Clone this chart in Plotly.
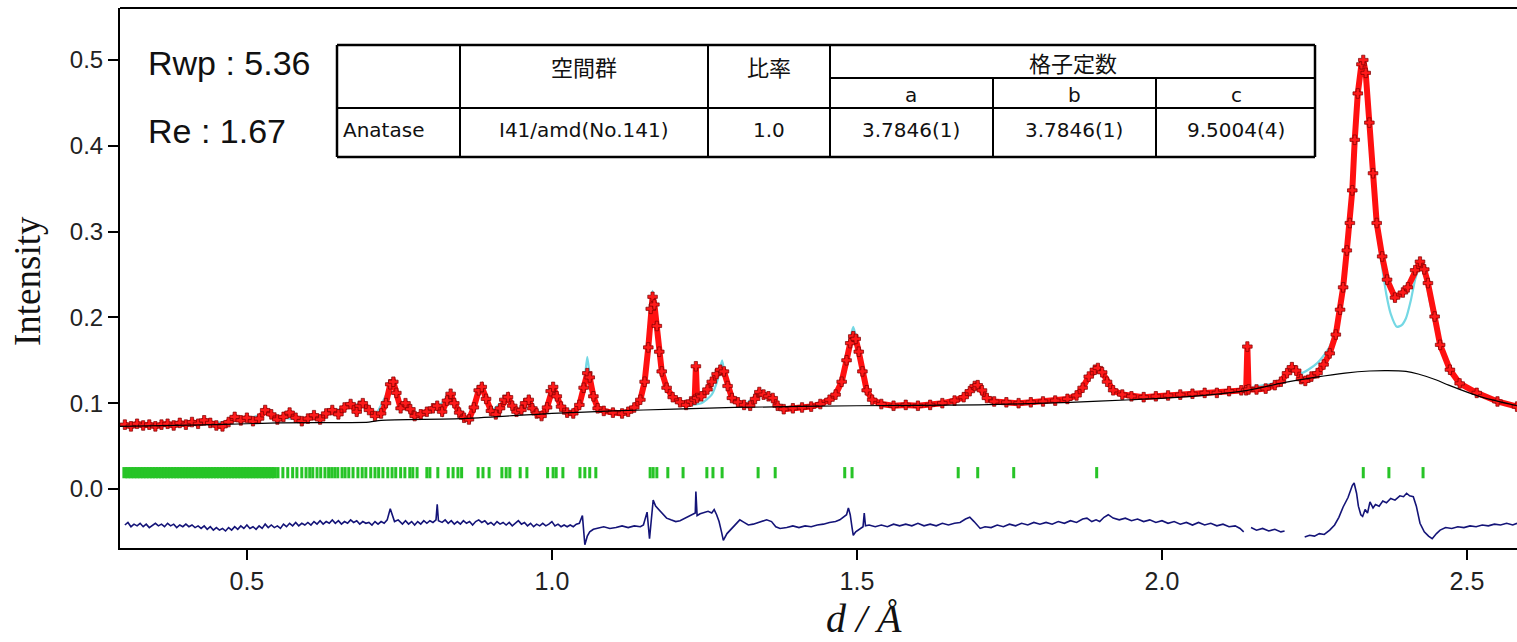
import plotly.graph_objects as go

# ---------------- data ----------------
obs_d = [0.300,0.310,0.320,0.330,0.340,0.350,0.360,0.370,0.380,0.390,0.400,0.410,0.420,0.430,0.440,0.450,0.460,0.470,0.480,0.490,
         0.500,0.510,0.520,0.530,0.540,0.550,0.560,0.570,0.580,0.590,0.600,0.610,0.620,0.630,0.640,0.650,0.660,0.670,0.680,0.685,
         0.690,0.700,0.710,0.720,0.728,0.735,0.740,0.745,0.752,0.760,0.768,0.775,0.785,0.795,0.805,0.812,0.820,0.828,0.834,0.840,
         0.848,0.856,0.864,0.872,0.880,0.885,0.892,0.900,0.908,0.915,0.922,0.928,0.935,0.942,0.950,0.956,0.962,0.968,0.975,0.983,
         0.992,0.998,1.002,1.008,1.015,1.025,1.035,1.045,1.052,1.058,1.062,1.068,1.075,1.085,1.100,1.115,1.125,1.135,1.145,1.152,
         1.158,1.162,1.165,1.168,1.172,1.176,1.180,1.188,1.198,1.210,1.220,1.228,1.234,1.236,1.238,1.245,1.255,1.262,1.270,1.276,
         1.282,1.288,1.295,1.305,1.315,1.325,1.333,1.340,1.347,1.355,1.362,1.370,1.380,1.395,1.410,1.425,1.440,1.455,1.465,1.475,
         1.483,1.489,1.494,1.498,1.503,1.509,1.516,1.525,1.540,1.560,1.580,1.600,1.620,1.640,1.660,1.675,1.685,1.693,1.698,1.705,
         1.713,1.725,1.745,1.765,1.785,1.805,1.825,1.845,1.860,1.870,1.880,1.890,1.895,1.902,1.910,1.920,1.935,1.950,1.970,1.990,
         2.010,2.030,2.050,2.070,2.090,2.110,2.130,2.138,2.140,2.142,2.155,2.170,2.185,2.195,2.205,2.213,2.220,2.228,2.235,2.245,
         2.255,2.265,2.275,2.285,2.292,2.297,2.303,2.308,2.312,2.316,2.321,2.327,2.330,2.334,2.340,2.346,2.352,2.361,2.369,2.382,
         2.395,2.403,2.415,2.423,2.430,2.436,2.447,2.456,2.472,2.488,2.516,2.550,2.582]
obs_I = [0.075,0.073,0.076,0.074,0.075,0.073,0.075,0.076,0.074,0.077,0.075,0.078,0.076,0.080,0.077,0.074,0.073,0.078,0.084,0.080,
         0.083,0.079,0.082,0.092,0.087,0.081,0.084,0.089,0.083,0.079,0.082,0.086,0.081,0.088,0.092,0.087,0.095,0.099,0.090,0.097,
         0.100,0.092,0.085,0.088,0.100,0.122,0.125,0.112,0.094,0.100,0.093,0.085,0.087,0.090,0.094,0.097,0.090,0.103,0.111,0.100,
         0.089,0.083,0.081,0.095,0.115,0.119,0.105,0.091,0.087,0.094,0.104,0.107,0.097,0.090,0.092,0.100,0.104,0.094,0.088,0.085,
         0.095,0.114,0.119,0.108,0.096,0.089,0.088,0.098,0.118,0.135,0.130,0.108,0.094,0.091,0.089,0.088,0.090,0.095,0.104,0.125,
         0.165,0.210,0.224,0.215,0.190,0.160,0.137,0.118,0.107,0.101,0.098,0.102,0.104,0.143,0.106,0.108,0.116,0.125,0.134,0.139,
         0.137,0.120,0.106,0.101,0.098,0.097,0.105,0.113,0.110,0.108,0.106,0.097,0.093,0.094,0.095,0.096,0.099,0.104,0.110,0.125,
         0.150,0.170,0.178,0.175,0.160,0.137,0.115,0.104,0.099,0.097,0.098,0.097,0.098,0.100,0.103,0.107,0.114,0.120,0.121,0.115,
         0.106,0.102,0.101,0.100,0.101,0.102,0.103,0.105,0.109,0.118,0.131,0.139,0.141,0.136,0.125,0.115,0.110,0.108,0.107,0.108,
         0.109,0.110,0.111,0.112,0.112,0.114,0.115,0.115,0.166,0.116,0.116,0.117,0.121,0.125,0.135,0.142,0.138,0.128,0.126,0.131,
         0.135,0.145,0.158,0.180,0.209,0.235,0.278,0.310,0.348,0.407,0.461,0.495,0.500,0.485,0.427,0.368,0.310,0.271,0.244,0.223,
         0.229,0.235,0.255,0.265,0.256,0.240,0.201,0.168,0.139,0.123,0.112,0.102,0.096]

calc_d = [0.300,0.350,0.400,0.450,0.480,0.500,0.530,0.550,0.600,0.640,0.670,0.690,0.710,0.735,0.740,0.750,0.760,0.775,0.812,0.834,
          0.856,0.864,0.885,0.900,0.928,0.942,0.962,0.983,1.002,1.015,1.040,1.052,1.058,1.064,1.075,1.100,1.130,1.150,1.158,1.165,
          1.172,1.180,1.198,1.220,1.245,1.262,1.272,1.279,1.286,1.295,1.315,1.340,1.355,1.370,1.420,1.455,1.475,1.489,1.494,1.499,
          1.509,1.525,1.600,1.675,1.698,1.713,1.800,1.860,1.895,1.920,2.000,2.100,2.150,2.190,2.213,2.228,2.255,2.275,2.292,2.303,
          2.312,2.322,2.330,2.336,2.345,2.352,2.361,2.368,2.375,2.385,2.393,2.400,2.408,2.415,2.423,2.430,2.440,2.456,2.472,2.488,
          2.520,2.582]
calc_I = [0.075,0.075,0.076,0.077,0.080,0.081,0.088,0.083,0.082,0.090,0.097,0.098,0.087,0.120,0.124,0.098,0.098,0.087,0.095,0.110,
          0.085,0.083,0.118,0.092,0.106,0.091,0.102,0.088,0.118,0.095,0.091,0.118,0.154,0.120,0.094,0.090,0.092,0.115,0.165,0.231,
          0.190,0.136,0.106,0.098,0.100,0.110,0.128,0.150,0.122,0.106,0.098,0.112,0.108,0.097,0.096,0.103,0.125,0.175,0.189,0.175,
          0.135,0.103,0.097,0.107,0.121,0.105,0.102,0.109,0.141,0.114,0.108,0.113,0.119,0.125,0.143,0.135,0.147,0.166,0.210,0.275,
          0.350,0.462,0.497,0.475,0.370,0.305,0.258,0.226,0.204,0.189,0.191,0.199,0.220,0.244,0.260,0.252,0.215,0.168,0.139,0.122,
          0.110,0.096]

bkg_d = [0.292,0.450,0.550,0.700,0.720,0.850,0.950,1.000,1.100,1.200,1.300,1.500,1.700,1.850,1.950,2.050,2.140,2.200,2.250,2.300,
         2.340,2.370,2.400,2.420,2.450,2.470,2.520,2.582]
bkg_I = [0.073,0.075,0.077,0.078,0.080,0.082,0.086,0.088,0.091,0.093,0.095,0.097,0.098,0.101,0.104,0.108,0.115,0.124,0.130,0.135,
         0.1375,0.138,0.137,0.134,0.127,0.121,0.108,0.097]

diff_pts = [(0.300,-0.042),(0.305,-0.039),(0.310,-0.044),(0.315,-0.041),(0.320,-0.043),(0.325,-0.040),(0.330,-0.044),(0.335,-0.041),
            (0.340,-0.045),(0.345,-0.042),(0.350,-0.040),(0.355,-0.043),(0.360,-0.041),(0.365,-0.044),(0.370,-0.040),(0.375,-0.043),
            (0.380,-0.041),(0.385,-0.045),(0.390,-0.042),(0.395,-0.044),(0.400,-0.041),(0.405,-0.044),(0.410,-0.042),(0.415,-0.045),
            (0.420,-0.043),(0.425,-0.046),(0.430,-0.043),(0.435,-0.047),(0.440,-0.044),(0.445,-0.048),(0.450,-0.045),(0.455,-0.048),
            (0.460,-0.046),(0.465,-0.049),(0.470,-0.045),(0.475,-0.048),(0.480,-0.044),(0.485,-0.047),(0.490,-0.043),(0.495,-0.046),
            (0.500,-0.042),(0.505,-0.046),(0.510,-0.044),(0.515,-0.047),(0.520,-0.043),(0.525,-0.046),(0.530,-0.041),(0.535,-0.045),
            (0.540,-0.042),(0.545,-0.045),(0.550,-0.043),(0.555,-0.046),(0.560,-0.041),(0.565,-0.044),(0.570,-0.040),(0.575,-0.043),
            (0.580,-0.039),(0.585,-0.043),(0.590,-0.040),(0.595,-0.042),(0.600,-0.039),(0.605,-0.042),(0.610,-0.038),(0.615,-0.041),
            (0.620,-0.037),(0.625,-0.041),(0.630,-0.038),(0.635,-0.040),(0.640,-0.036),(0.645,-0.040),(0.650,-0.037),(0.655,-0.041),
            (0.660,-0.038),(0.665,-0.040),(0.670,-0.036),(0.675,-0.039),(0.680,-0.037),(0.685,-0.041),(0.690,-0.038),(0.695,-0.040),
            (0.700,-0.039),(0.705,-0.042),(0.710,-0.038),(0.715,-0.041),(0.720,-0.038),(0.725,-0.040),(0.730,-0.036),(0.735,-0.023),
            (0.738,-0.030),(0.742,-0.038),(0.748,-0.036),(0.755,-0.041),(0.760,-0.037),(0.765,-0.041),(0.770,-0.038),(0.775,-0.042),
            (0.780,-0.038),(0.785,-0.041),(0.790,-0.037),(0.795,-0.040),(0.800,-0.037),(0.805,-0.039),(0.810,-0.036),(0.812,-0.018),
            (0.814,-0.037),(0.820,-0.039),(0.825,-0.036),(0.830,-0.040),(0.835,-0.037),(0.840,-0.041),(0.845,-0.038),(0.850,-0.041),
            (0.855,-0.037),(0.860,-0.040),(0.865,-0.038),(0.870,-0.042),(0.875,-0.038),(0.880,-0.036),(0.885,-0.039),(0.890,-0.037),
            (0.895,-0.041),(0.900,-0.039),(0.905,-0.042),(0.910,-0.038),(0.915,-0.041),(0.920,-0.039),(0.925,-0.042),(0.930,-0.039),
            (0.935,-0.043),(0.940,-0.040),(0.945,-0.037),(0.950,-0.041),(0.955,-0.039),(0.960,-0.043),(0.965,-0.040),(0.970,-0.044),
            (0.975,-0.041),(0.980,-0.043),(0.985,-0.040),(0.990,-0.043),(0.995,-0.041),(1.000,-0.038),(1.005,-0.043),(1.010,-0.041),
            (1.015,-0.044),(1.020,-0.042),(1.025,-0.044),(1.030,-0.042),(1.035,-0.044),(1.040,-0.041),(1.045,-0.040),(1.050,-0.031),
            (1.054,-0.065),(1.058,-0.055),(1.062,-0.050),(1.068,-0.047),(1.075,-0.046),(1.085,-0.044),(1.095,-0.046),(1.105,-0.045),
            (1.115,-0.043),(1.125,-0.045),(1.135,-0.043),(1.145,-0.044),(1.150,-0.042),(1.156,-0.027),(1.160,-0.058),(1.163,-0.030),
            (1.166,-0.013),(1.170,-0.020),(1.175,-0.024),(1.180,-0.028),(1.188,-0.034),(1.195,-0.036),(1.203,-0.038),(1.210,-0.037),
            (1.218,-0.034),(1.225,-0.031),(1.230,-0.030),(1.235,-0.028),(1.236,-0.003),(1.238,-0.031),(1.243,-0.029),(1.250,-0.027),
            (1.256,-0.026),(1.262,-0.028),(1.266,-0.024),(1.270,-0.030),(1.274,-0.038),(1.278,-0.050),(1.281,-0.060),(1.287,-0.052),
            (1.295,-0.046),(1.302,-0.040),(1.308,-0.036),(1.315,-0.039),(1.322,-0.042),(1.330,-0.041),(1.338,-0.039),(1.345,-0.037),
            (1.352,-0.036),(1.360,-0.038),(1.367,-0.044),(1.374,-0.046),(1.385,-0.045),(1.395,-0.043),(1.405,-0.045),(1.415,-0.043),
            (1.425,-0.044),(1.435,-0.042),(1.445,-0.041),(1.455,-0.039),(1.465,-0.038),(1.472,-0.036),(1.478,-0.033),(1.483,-0.030),
            (1.486,-0.022),(1.489,-0.030),(1.492,-0.045),(1.494,-0.054),(1.498,-0.050),(1.505,-0.046),(1.510,-0.044),(1.512,-0.028),
            (1.514,-0.043),(1.520,-0.042),(1.530,-0.044),(1.540,-0.042),(1.550,-0.044),(1.560,-0.041),(1.570,-0.043),(1.580,-0.041),
            (1.590,-0.043),(1.600,-0.040),(1.610,-0.043),(1.620,-0.041),(1.630,-0.043),(1.640,-0.040),(1.650,-0.042),(1.660,-0.040),
            (1.669,-0.039),(1.678,-0.035),(1.685,-0.033),(1.692,-0.038),(1.702,-0.046),(1.710,-0.044),(1.720,-0.045),(1.730,-0.042),
            (1.740,-0.044),(1.750,-0.041),(1.760,-0.043),(1.770,-0.040),(1.780,-0.042),(1.790,-0.039),(1.800,-0.041),(1.810,-0.039),
            (1.820,-0.041),(1.830,-0.038),(1.840,-0.040),(1.850,-0.037),(1.860,-0.039),(1.870,-0.035),(1.877,-0.034),(1.885,-0.038),
            (1.892,-0.036),(1.898,-0.038),(1.905,-0.033),(1.912,-0.030),(1.920,-0.034),(1.930,-0.036),(1.940,-0.034),(1.950,-0.037),
            (1.960,-0.035),(1.970,-0.038),(1.980,-0.036),(1.990,-0.039),(2.000,-0.037),(2.010,-0.040),(2.020,-0.038),(2.030,-0.041),
            (2.040,-0.039),(2.050,-0.042),(2.060,-0.039),(2.070,-0.042),(2.080,-0.040),(2.090,-0.043),(2.100,-0.041),(2.110,-0.044),
            (2.120,-0.043),(2.128,-0.046),(2.134,-0.050),(None,None),(2.146,-0.045),(2.155,-0.048),(2.165,-0.046),(2.175,-0.049),
            (2.185,-0.047),(2.195,-0.050),(2.201,-0.049),(None,None),(2.234,-0.056),(2.242,-0.054),(2.250,-0.055),(2.258,-0.052),
            (2.266,-0.053),(2.275,-0.048),(2.283,-0.042),(2.290,-0.033),(2.297,-0.021),(2.305,-0.010),(2.312,0.004),(2.315,0.007),
            (2.319,-0.005),(2.322,-0.020),(2.326,-0.030),(2.329,-0.032),(2.333,-0.024),(2.337,-0.028),(2.341,-0.015),(2.346,-0.022),
            (2.350,-0.018),(2.356,-0.020),(2.362,-0.014),(2.368,-0.016),(2.375,-0.011),(2.382,-0.013),(2.390,-0.008),(2.396,-0.009),
            (2.401,-0.005),(2.406,-0.008),(2.412,-0.009),(2.417,-0.020),(2.423,-0.040),(2.430,-0.050),(2.437,-0.055),(2.443,-0.058),
            (2.450,-0.052),(2.456,-0.048),(2.465,-0.045),(2.475,-0.046),(2.485,-0.044),(2.495,-0.045),(2.505,-0.043),(2.515,-0.044),
            (2.525,-0.042),(2.535,-0.043),(2.545,-0.041),(2.555,-0.042),(2.565,-0.040),(2.575,-0.042),(2.582,-0.040)]

hkl_dense_d = [0.300,0.305,0.310,0.315,0.320,0.325,0.330,0.335,0.340,0.345,0.350,0.355,0.360,0.365,0.370,0.375,0.380,0.385,
               0.390,0.395,0.400,0.405,0.410,0.415,0.420,0.425,0.430,0.435,0.440,0.445,0.450,0.455,0.460,0.465,0.470,0.475,
               0.480,0.485,0.490,0.495,0.500,0.505,0.510,0.515,0.520,0.525,0.530,0.535,0.540,0.545]
hkl_d = [0.551,0.559,0.567,0.575,0.582,0.590,0.597,0.603,0.608,0.615,0.621,0.628,0.634,0.639,0.644,0.649,0.656,0.661,0.667,0.674,
         0.682,0.689,0.695,0.703,0.710,0.716,0.723,0.731,0.738,0.744,0.752,0.759,0.767,0.772,0.779,0.795,0.800,0.813,0.830,0.838,
         0.846,0.852,0.879,0.887,0.897,0.918,0.925,0.931,0.948,0.959,0.993,1.002,1.007,1.018,1.046,1.054,1.062,1.072,1.161,1.166,
         1.172,1.190,1.215,1.254,1.264,1.279,1.338,1.366,1.480,1.492,1.666,1.698,1.757,1.893,2.330,2.372,2.428]
hkl_level = 0.019

x_ticks = [0.5, 1.0, 1.5, 2.0, 2.5]
y_ticks = [0.0, 0.1, 0.2, 0.3, 0.4, 0.5]
x_range = [0.292, 2.582]
y_range = [-0.0688, 0.5606]

rwp_text = "Rwp : 5.36"
re_text = "Re : 1.67"
table_header = ["空間群", "比率", "格子定数"]
table_sub = ["a", "b", "c"]
table_row = ["Anatase", "I41/amd(No.141)", "1.0", "3.7846(1)", "3.7846(1)", "9.5004(4)"]

diff_d = [p[0] for p in diff_pts]
diff_I = [p[1] for p in diff_pts]

# ---------------- figure ----------------
W, H = 1517, 642
L, R, T, B = 120, 0, 8, 94
pw, ph = W - L - R, H - T - B

def px(x):
    return (x - L) / pw

def py(y):
    return (H - B - y) / ph

fig = go.Figure()

fig.add_trace(go.Scatter(x=calc_d, y=calc_I, mode="lines", line_shape="spline",
                         line=dict(color="#74d8e4", width=2.2, smoothing=0.6), hoverinfo="skip"))
fig.add_trace(go.Scatter(x=obs_d, y=obs_I, mode="lines+markers",
                         line=dict(color="#ff1010", width=6),
                         marker=dict(symbol="cross", size=8, color="#ff1a1a",
                                     line=dict(color="#7a0000", width=0.7))))
fig.add_trace(go.Scatter(x=bkg_d, y=bkg_I, mode="lines", line_shape="spline",
                         line=dict(color="#000000", width=1.2, smoothing=0.8), hoverinfo="skip"))
fig.add_trace(go.Scatter(x=hkl_dense_d, y=[hkl_level] * len(hkl_dense_d), mode="markers",
                         marker=dict(symbol="line-ns", size=8,
                                     line=dict(color="#27c427", width=5))))
fig.add_trace(go.Scatter(x=hkl_d, y=[hkl_level] * len(hkl_d), mode="markers",
                         marker=dict(symbol="line-ns", size=8,
                                     line=dict(color="#27c427", width=3))))
fig.add_trace(go.Scatter(x=diff_d, y=diff_I, mode="lines",
                         line=dict(color="#141478", width=1.6)))

axis_font = dict(family="Liberation Sans, Arial, sans-serif", color="#222222")
fig.update_xaxes(range=x_range, tickvals=x_ticks, tickformat=".1f",
                 showline=True, linecolor="black", linewidth=2,
                 ticks="outside", ticklen=10, tickwidth=2, tickcolor="black",
                 showgrid=False, zeroline=False,
                 tickfont=dict(size=25, **axis_font))
fig.update_yaxes(range=y_range, tickvals=y_ticks, tickformat=".1f",
                 showline=True, linecolor="black", linewidth=2,
                 ticks="outside", ticklen=10, tickwidth=2, tickcolor="black",
                 showgrid=False, zeroline=False,
                 tickfont=dict(size=24, **axis_font))

shapes = []
shapes.append(dict(type="line", xref="paper", yref="paper", x0=0, x1=1, y0=1, y1=1,
                   line=dict(color="black", width=2)))

tl, tr, tt, tb = 337, 1315, 45, 157
def hline(y, x0, x1, w=2):
    shapes.append(dict(type="line", xref="paper", yref="paper", x0=px(x0), x1=px(x1),
                       y0=py(y), y1=py(y), line=dict(color="black", width=w)))
def vline(x, y0, y1, w=2):
    shapes.append(dict(type="line", xref="paper", yref="paper", x0=px(x), x1=px(x),
                       y0=py(y0), y1=py(y1), line=dict(color="black", width=w)))
hline(tt, tl, tr, 2.5)
hline(tb, tl, tr, 2.5)
hline(108, tl, tr, 2)
hline(78, 830, tr, 2)
vline(tl, tt, tb, 2.5)
vline(tr, tt, tb, 2.5)
vline(460, tt, tb, 2)
vline(708, tt, tb, 2)
vline(830, tt, tb, 2)
vline(993, 78, tb, 2)
vline(1156, 78, tb, 2)

ann = []
tfont = dict(family="DejaVu Sans, sans-serif", size=20, color="#111111")
cjk = dict(family="Noto Sans CJK JP, sans-serif", size=22, color="#111111")
def txt(x, y, s, font, xanchor="center"):
    ann.append(dict(x=px(x), y=py(y), xref="paper", yref="paper", text=s, showarrow=False,
                    xanchor=xanchor, yanchor="middle", font=font))
txt(584, 66, table_header[0], cjk)
txt(769, 66, table_header[1], cjk)
txt(1073, 62, table_header[2], cjk)
txt(911, 95, table_sub[0], tfont)
txt(1074, 95, table_sub[1], tfont)
txt(1236, 95, table_sub[2], tfont)
txt(341, 130, table_row[0], tfont, "left")
txt(584, 130, table_row[1], tfont)
txt(769, 130, table_row[2], tfont)
txt(911, 130, table_row[3], tfont)
txt(1074, 130, table_row[4], tfont)
txt(1236, 130, table_row[5], tfont)

big = dict(family="Liberation Sans, Arial, sans-serif", size=34, color="#111111")
txt(146, 63, rwp_text, big, "left")
txt(146, 131, re_text, big, "left")

ann.append(dict(x=px(864), y=py(618), xref="paper", yref="paper",
                text="<i>d / Å</i>", showarrow=False, xanchor="center", yanchor="middle",
                font=dict(family="Liberation Serif, Times New Roman, serif", size=40, color="#111111")))
ann.append(dict(x=px(27), y=py(281), xref="paper", yref="paper", text="Intensity",
                textangle=-90, showarrow=False, xanchor="center", yanchor="middle",
                font=dict(family="Liberation Serif, Times New Roman, serif", size=37, color="#111111")))

fig.update_layout(width=W, height=H, margin=dict(l=L, r=R, t=T, b=B),
                  paper_bgcolor="white", plot_bgcolor="white", showlegend=False,
                  shapes=shapes, annotations=ann)

fig.write_html("out.html")
